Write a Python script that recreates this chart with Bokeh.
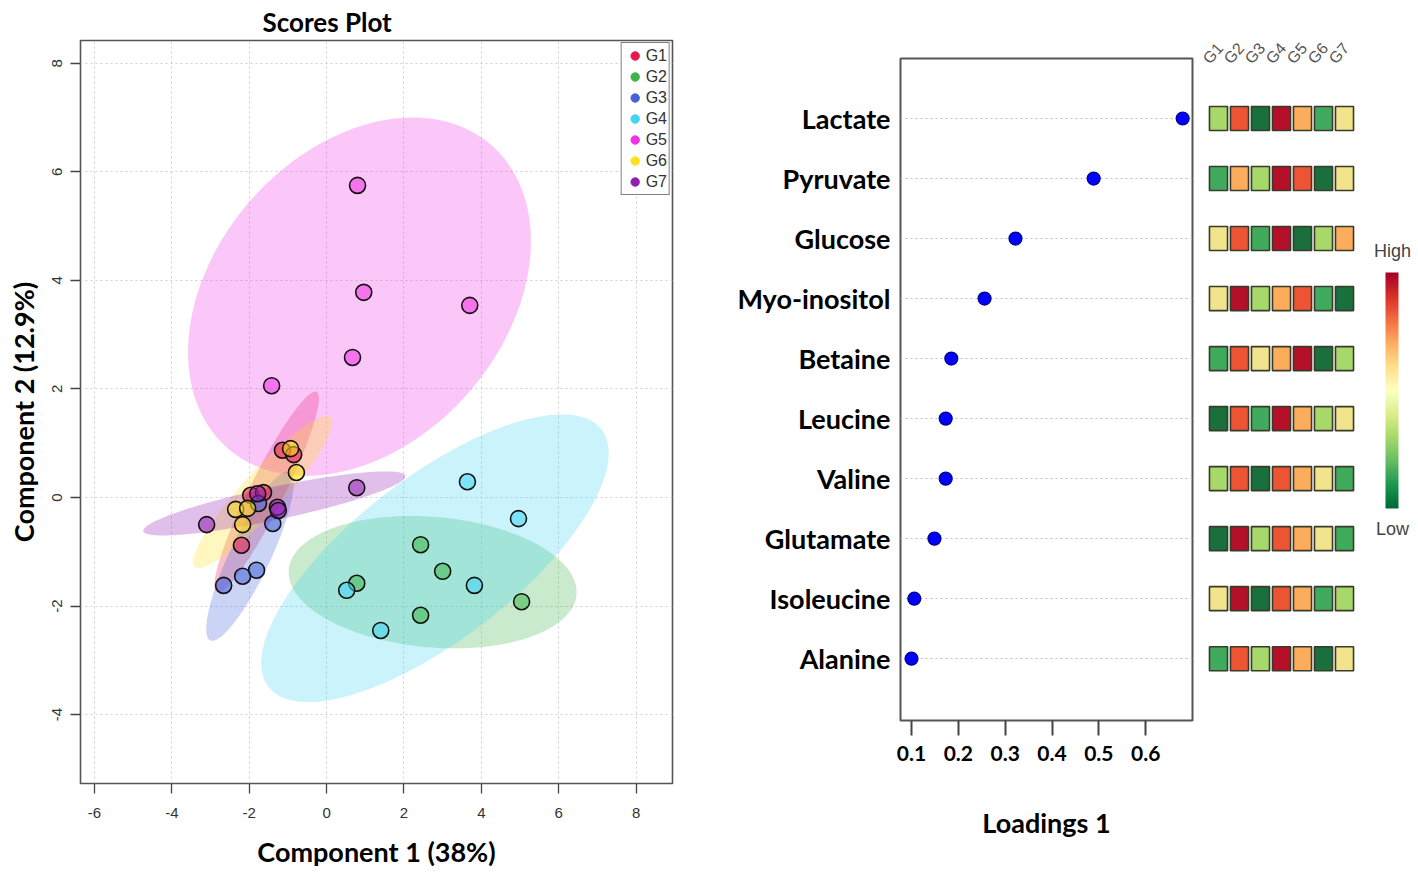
import numpy as np
from bokeh.plotting import figure
from bokeh.layouts import row
from bokeh.models import (Range1d, FixedTicker, Legend, LegendItem, LinearColorMapper,
                          ColorBar, Label, ColumnDataSource)
from bokeh.core.properties import value
from bokeh.embed import file_html
from bokeh.resources import INLINE

# ---------------- data ----------------
groups = ["G1", "G2", "G3", "G4", "G5", "G6", "G7"]
group_colors = ["#e6194b", "#3cb44b", "#4363d8", "#42d4f4", "#f032e6", "#ffe119", "#911eb4"]

g1_x = [-1.14, -0.85, -1.96, -1.63, -2.20]
g1_y = [0.87, 0.79, 0.04, 0.09, -0.88]
g2_x = [2.43, 3.00, 0.78, 2.43, 5.04]
g2_y = [-0.87, -1.36, -1.58, -2.17, -1.92]
g3_x = [-1.76, -1.39, -1.81, -2.17, -2.66]
g3_y = [-0.11, -0.48, -1.34, -1.45, -1.62]
g4_x = [3.64, 4.96, 3.82, 0.52, 1.40]
g4_y = [0.29, -0.39, -1.62, -1.71, -2.45]
g5_x = [0.80, 0.96, 3.70, 0.67, -1.42]
g5_y = [5.75, 3.78, 3.54, 2.58, 2.06]
g6_x = [-0.93, -0.78, -2.35, -2.04, -2.17]
g6_y = [0.90, 0.46, -0.22, -0.20, -0.50]
g7_x = [0.78, -3.10, -1.78, -1.27, -1.25]
g7_y = [0.18, -0.50, 0.07, -0.18, -0.24]
scores_x = [g1_x, g2_x, g3_x, g4_x, g5_x, g6_x, g7_x]
scores_y = [g1_y, g2_y, g3_y, g4_y, g5_y, g6_y, g7_y]

# confidence ellipses: centre, half-extent in x / y, correlation
ell_cx = [-1.55, 2.74, -1.98, 2.80, 0.85, -1.65, -1.35]
ell_cy = [0.10, -1.56, -1.08, -1.12, 3.70, 0.10, -0.11]
ell_sx = [1.35, 3.72, 1.13, 4.49, 4.43, 1.80, 3.39]
ell_sy = [1.85, 1.22, 1.56, 2.65, 3.30, 1.40, 0.59]
ell_r = [0.93, -0.15, 0.86, 0.73, 0.31, 0.92, 0.85]

x_ticks = [-6, -4, -2, 0, 2, 4, 6, 8]
y_ticks = [-4, -2, 0, 2, 4, 6, 8]

metabolites = ["Lactate", "Pyruvate", "Glucose", "Myo-inositol", "Betaine",
               "Leucine", "Valine", "Glutamate", "Isoleucine", "Alanine"]
loadings = [0.679, 0.489, 0.322, 0.256, 0.185, 0.173, 0.173, 0.149, 0.106, 0.100]
load_ticks = [0.1, 0.2, 0.3, 0.4, 0.5, 0.6]

heat_lactate = [3, 6, 1, 7, 5, 2, 4]
heat_pyruvate = [2, 5, 3, 7, 6, 1, 4]
heat_glucose = [4, 6, 2, 7, 1, 3, 5]
heat_myo = [4, 7, 3, 5, 6, 2, 1]
heat_betaine = [2, 6, 4, 5, 7, 1, 3]
heat_leucine = [1, 6, 2, 7, 5, 3, 4]
heat_valine = [3, 6, 1, 6, 5, 4, 2]
heat_glutamate = [1, 7, 3, 6, 5, 4, 2]
heat_isoleucine = [4, 7, 1, 6, 5, 2, 3]
heat_alanine = [2, 6, 3, 7, 5, 1, 4]
heat_rows = [heat_lactate, heat_pyruvate, heat_glucose, heat_myo, heat_betaine,
             heat_leucine, heat_valine, heat_glutamate, heat_isoleucine, heat_alanine]

# ---------------- styles ----------------
BOLD = "Lato"
NARROW = "'Liberation Sans Narrow', 'Liberation Sans', sans-serif"

# ---------------- scores plot ----------------
p1 = figure(width=700, height=876, x_range=Range1d(-6.36, 8.94), y_range=Range1d(-5.27, 8.42),
            output_backend="svg", toolbar_location=None,
            min_border_left=80, min_border_right=28, min_border_top=40, min_border_bottom=93,
            title="Scores Plot")
p1.frame_align = False
p1.title.text_font = BOLD
p1.title.text_font_size = "26px"
p1.title.text_font_style = "bold"
p1.title.text_color = "black"
p1.title.align = "left"
p1.title.offset = 182
p1.title.standoff = 6

t = np.linspace(0, 2 * np.pi, 240)
for i in range(len(groups)):
    ex = ell_cx[i] + ell_sx[i] * np.cos(t)
    ey = ell_cy[i] + ell_sy[i] * (ell_r[i] * np.cos(t) + np.sqrt(1 - ell_r[i] ** 2) * np.sin(t))
    p1.patch(ex, ey, fill_color=group_colors[i], fill_alpha=0.28, line_color=None)

for i in range(len(groups)):
    p1.scatter(scores_x[i], scores_y[i], size=16, fill_color=group_colors[i], fill_alpha=0.55,
               line_color="#111111", line_width=1.6)

# legend-only renderers (size 0: nothing drawn in the plot, legend dot sized by its box)
items = []
for i, (g, c) in enumerate(zip(groups, group_colors)):
    r = p1.scatter(scores_x[i], scores_y[i], size=0, fill_color=c, line_color=c)
    items.append(LegendItem(label=g, renderers=[r]))
legend = Legend(items=items, location="top_right", margin=2, padding=2, spacing=0,
                glyph_height=21, glyph_width=22, label_height=21, label_standoff=0,
                label_text_font=NARROW, label_text_font_size="16px", label_text_color="#333333",
                border_line_color="black", border_line_width=1.3, background_fill_alpha=1.0)
p1.add_layout(legend)

for ax in (p1.xaxis, p1.yaxis):
    ax.axis_line_color = None
    ax.major_tick_in = 0
    ax.major_tick_out = 10
    ax.major_tick_line_color = "#444444"
    ax.major_tick_line_width = 1.3
    ax.minor_tick_line_color = None
    ax.major_label_text_font = NARROW
    ax.major_label_text_font_size = "15px"
    ax.major_label_text_color = "#333333"
    ax.axis_label_text_font = BOLD
    ax.axis_label_text_font_size = "27px"
    ax.axis_label_text_font_style = "bold"
    ax.axis_label_text_color = "black"
p1.xaxis.ticker = FixedTicker(ticks=x_ticks)
p1.yaxis.ticker = FixedTicker(ticks=y_ticks)
p1.xaxis.major_label_overrides = {v: str(v) for v in x_ticks}
p1.yaxis.major_label_overrides = {v: str(v) for v in y_ticks}
p1.yaxis.major_label_orientation = "vertical"
p1.xaxis.axis_label = "Component 1 (38%)"
p1.yaxis.axis_label = "Component 2 (12.9%)"
p1.xaxis.major_label_standoff = 14
p1.yaxis.major_label_standoff = 8
p1.xaxis.axis_label_standoff = 14
p1.yaxis.axis_label_standoff = 10
p1.grid.grid_line_color = "#cfcfcf"
p1.grid.grid_line_dash = "2 3"
p1.outline_line_color = "#555555"
p1.outline_line_width = 1.6

# ---------------- loadings dot plot ----------------
n = len(metabolites)
row_y = [n - i for i in range(n)]
p2 = figure(width=496, height=876, x_range=Range1d(0.0765, 0.70), y_range=Range1d(-0.03, 11),
            output_backend="svg", toolbar_location=None,
            min_border_left=200, min_border_right=4, min_border_top=58, min_border_bottom=156)
p2.frame_align = False
p2.scatter(loadings, row_y, size=13, fill_color="#0000ff", line_color="#000080", line_width=1.2)
p2.xgrid.visible = False
p2.ygrid.grid_line_color = "#bdbdbd"
p2.ygrid.grid_line_dash = "2 3"
p2.ygrid.grid_line_width = 1.2
p2.yaxis.ticker = FixedTicker(ticks=row_y)
p2.yaxis.major_label_overrides = {y: m for y, m in zip(row_y, metabolites)}
p2.yaxis.axis_line_color = None
p2.yaxis.major_tick_line_color = None
p2.yaxis.minor_tick_line_color = None
p2.yaxis.major_label_text_font = BOLD
p2.yaxis.major_label_text_font_size = "27px"
p2.yaxis.major_label_text_font_style = "bold"
p2.yaxis.major_label_text_color = "black"
p2.yaxis.major_label_standoff = 4
p2.xaxis.ticker = FixedTicker(ticks=load_ticks)
p2.xaxis.axis_line_color = None
p2.xaxis.major_tick_in = 0
p2.xaxis.major_tick_out = 15
p2.xaxis.major_tick_line_color = "#444444"
p2.xaxis.major_tick_line_width = 2
p2.xaxis.minor_tick_line_color = None
p2.xaxis.major_label_text_font = BOLD
p2.xaxis.major_label_text_font_size = "21px"
p2.xaxis.major_label_text_font_style = "bold"
p2.xaxis.major_label_text_color = "black"
p2.xaxis.major_label_standoff = 10
p2.xaxis.axis_label = "Loadings 1"
p2.xaxis.axis_label_text_font = BOLD
p2.xaxis.axis_label_text_font_size = "27px"
p2.xaxis.axis_label_text_font_style = "bold"
p2.xaxis.axis_label_text_color = "black"
p2.xaxis.axis_label_standoff = 42
p2.outline_line_color = "#555555"
p2.outline_line_width = 2

# ---------------- heat map + colour key ----------------
heat_palette = ["#19703c", "#41ab5d", "#a6d86a", "#f2e48c", "#fbad5c", "#ec5434", "#b5102a"]
heat_mapper = LinearColorMapper(palette=heat_palette, low=0.5, high=7.5)

px_row = 662 / 11.03
p3 = figure(width=222, height=876,
            x_range=Range1d(-22 / 21, -22 / 21 + 222 / 21),
            y_range=Range1d(-0.03 - 156 / px_row, 11 + 58 / px_row),
            output_backend="svg", toolbar_location=None, min_border=0)
p3.frame_align = False
p3.axis.visible = False
p3.grid.visible = False
p3.outline_line_color = None

hx, hy, hv = [], [], []
for i, vals in enumerate(heat_rows):
    for j, v in enumerate(vals):
        hx.append(j)
        hy.append(row_y[i])
        hv.append(v)
src = ColumnDataSource(dict(x=hx, y=hy, v=hv))
p3.rect(x="x", y="y", width=0.86, height=0.40, source=src,
        fill_color={"field": "v", "transform": heat_mapper},
        line_color="#3a3a2a", line_width=1.6)

p3.text(x=[j - 0.3 for j in range(len(groups))], y=[10.86] * len(groups), text=groups,
        angle=0.85, text_align="left", text_baseline="bottom",
        text_font=value(NARROW), text_font_size="16px", text_color="#555555")

anchors = ["#006837", "#1a9850", "#66bd63", "#a6d96a", "#d9ef8b", "#ffffbf",
           "#fee08b", "#fdae61", "#f46d43", "#d73027", "#a50026"]
def _hex(c):
    return [int(c[k:k + 2], 16) for k in (1, 3, 5)]
arr = np.array([_hex(c) for c in anchors], dtype=float)
pos = np.linspace(0, 1, len(anchors))
fine = np.linspace(0, 1, 256)
smooth = ["#%02x%02x%02x" % tuple(int(round(np.interp(f, pos, arr[:, k]))) for k in range(3)) for f in fine]
key_mapper = LinearColorMapper(palette=smooth, low=0, high=1)
cbar = ColorBar(color_mapper=key_mapper, width=13, height=236, location=(189, 368),
                orientation="vertical", padding=0, margin=0, ticker=FixedTicker(ticks=[]),
                major_tick_line_color=None, minor_tick_line_color=None,
                bar_line_color=None, border_line_color=None, background_fill_alpha=0)
p3.add_layout(cbar)
p3.add_layout(Label(x=(1392 - 1196) / 21 - 22 / 21, y=11 - (250 - 58) / px_row, text="High",
                    text_align="center", text_baseline="middle",
                    text_font=NARROW, text_font_size="18px", text_color="#444444"))
p3.add_layout(Label(x=(1392 - 1196) / 21 - 22 / 21, y=11 - (528 - 58) / px_row, text="Low",
                    text_align="center", text_baseline="middle",
                    text_font=NARROW, text_font_size="18px", text_color="#444444"))

layout = row(p1, p2, p3)
open("out.html", "w").write(file_html(layout, INLINE))
